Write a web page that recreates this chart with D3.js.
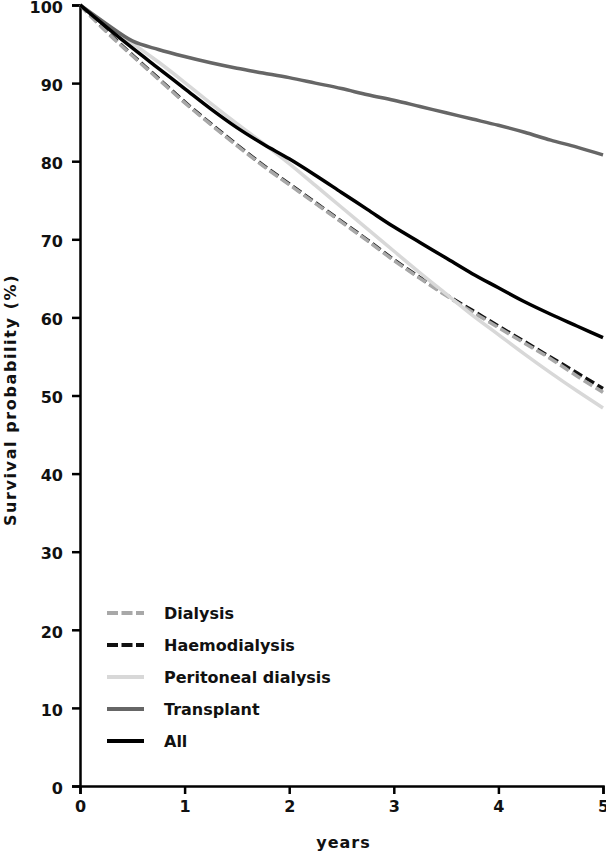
<!DOCTYPE html>
<html>
<head>
<meta charset="utf-8">
<script src="https://cdn.jsdelivr.net/npm/d3@7"></script>
<style>
  body { margin: 0; background: #fff; }
  svg { display: block; font-family: "DejaVu Sans", Verdana, sans-serif; }
</style>
</head>
<body>
<div class="canvas"></div>
<script>
const years = [0, 0.25, 0.5, 0.75, 1, 1.25, 1.5, 1.75, 2, 2.25, 2.5, 2.75, 3, 3.25, 3.5, 3.75, 4, 4.25, 4.5, 4.75, 5];

const dialysis      = [100, 96.6, 93.5, 90.5, 87.5, 84.7, 82.0, 79.4, 77.0, 74.6, 72.2, 69.8, 67.3, 65.0, 62.8, 60.7, 58.7, 56.7, 54.7, 52.5, 50.4];
const haemodialysis = [100, 96.7, 93.6, 90.6, 87.6, 84.8, 82.1, 79.5, 77.1, 74.7, 72.3, 69.9, 67.4, 65.1, 62.9, 60.9, 58.9, 56.9, 54.9, 52.9, 50.9];
const peritoneal    = [100, 97.5, 95.1, 92.7, 90.1, 87.4, 84.8, 82.3, 79.7, 76.9, 74.1, 71.3, 68.5, 65.7, 63.0, 60.3, 57.8, 55.3, 52.9, 50.6, 48.4];
const transplant    = [100, 97.6, 95.4, 94.3, 93.4, 92.6, 91.9, 91.3, 90.7, 90.0, 89.3, 88.5, 87.8, 87.0, 86.2, 85.4, 84.6, 83.7, 82.7, 81.8, 80.8];
const all           = [100, 97.2, 94.5, 91.9, 89.3, 86.7, 84.3, 82.2, 80.3, 78.2, 76.0, 73.8, 71.6, 69.6, 67.6, 65.6, 63.8, 62.0, 60.4, 58.9, 57.4];

const xTicks = [0, 1, 2, 3, 4, 5];
const yTicks = [0, 10, 20, 30, 40, 50, 60, 70, 80, 90, 100];

const series = [
  { name: 'Haemodialysis', values: haemodialysis, color: '#111111', dash: '10,4', legendRow: 1 },
  { name: 'Dialysis', values: dialysis, color: '#a8a8a8', dash: '10,4', legendRow: 0 },
  { name: 'Peritoneal dialysis', values: peritoneal, color: '#d8d8d8', dash: null, legendRow: 2 },
  { name: 'Transplant', values: transplant, color: '#666666', dash: null, legendRow: 3 },
  { name: 'All', values: all, color: '#000000', dash: null, legendRow: 4 }
];

const width = 606, height = 853;
const margin = { top: 5, right: 3, bottom: 67, left: 80 };
const graphWidth = width - margin.left - margin.right;
const graphHeight = height - margin.top - margin.bottom;

const svg = d3.select('.canvas').append('svg')
    .attr('width', width)
    .attr('height', height);

const graph = svg.append('g')
    .attr('transform', `translate(${margin.left}, ${margin.top})`);

const x = d3.scaleLinear().domain([0, 5]).range([0, graphWidth]);
const y = d3.scaleLinear().domain([0, 100]).range([graphHeight, 0]);

// Axes
const xAxis = d3.axisBottom(x).tickValues(xTicks).tickSize(8).tickPadding(7).tickFormat(d3.format('d'));
const yAxis = d3.axisLeft(y).tickValues(yTicks).tickSize(8).tickPadding(9).tickFormat(d3.format('d'));

const xg = graph.append('g')
    .attr('transform', `translate(0, ${graphHeight})`)
    .call(xAxis);
const yg = graph.append('g').call(yAxis);

[xg, yg].forEach(g => {
  g.select('.domain').attr('stroke', '#000').attr('stroke-width', 2.5);
  g.selectAll('.tick line').attr('stroke', '#000').attr('stroke-width', 2.5);
  g.selectAll('.tick text')
    .attr('font-family', '"DejaVu Sans", Verdana, sans-serif')
    .attr('font-size', '16px')
    .attr('font-weight', 'bold')
    .attr('fill', '#111');
});
yg.selectAll('.tick text').attr('dy', '0.45em');

// Lines
const line = d3.line()
    .x((d, i) => x(years[i]))
    .y(d => y(d))
    .curve(d3.curveMonotoneX);

series.forEach(s => {
  graph.append('path')
    .datum(s.values)
    .attr('fill', 'none')
    .attr('stroke', s.color)
    .attr('stroke-width', 3.5)
    .attr('stroke-dasharray', s.dash)
    .attr('stroke-linecap', 'butt')
    .attr('d', line);
});

// Legend
const legend = svg.append('g').attr('transform', 'translate(107, 613)');
series.forEach(s => {
  const row = legend.append('g').attr('transform', `translate(0, ${s.legendRow * 32})`);
  row.append('line')
    .attr('x1', 0).attr('x2', 37)
    .attr('y1', 0).attr('y2', 0)
    .attr('stroke', s.color)
    .attr('stroke-width', 4)
    .attr('stroke-dasharray', s.dash ? '11,3.5' : null);
  row.append('text')
    .attr('x', 57)
    .attr('y', 0)
    .attr('dy', '0.36em')
    .attr('font-size', '16px')
    .attr('font-weight', 'bold')
    .attr('fill', '#111')
    .text(s.name);
});

// Axis titles
svg.append('text')
    .attr('x', margin.left + graphWidth / 2 + 2)
    .attr('y', 848)
    .attr('text-anchor', 'middle')
    .attr('font-size', '16px')
    .attr('font-weight', 'bold')
    .attr('letter-spacing', '1px')
    .attr('fill', '#111')
    .text('years');

svg.append('text')
    .attr('transform', 'translate(10, 400) rotate(-90)')
    .attr('text-anchor', 'middle')
    .attr('dy', '0.36em')
    .attr('font-size', '16px')
    .attr('font-weight', 'bold')
    .attr('letter-spacing', '1.6px')
    .attr('fill', '#111')
    .text('Survival probability (%)');
</script>
</body>
</html>
